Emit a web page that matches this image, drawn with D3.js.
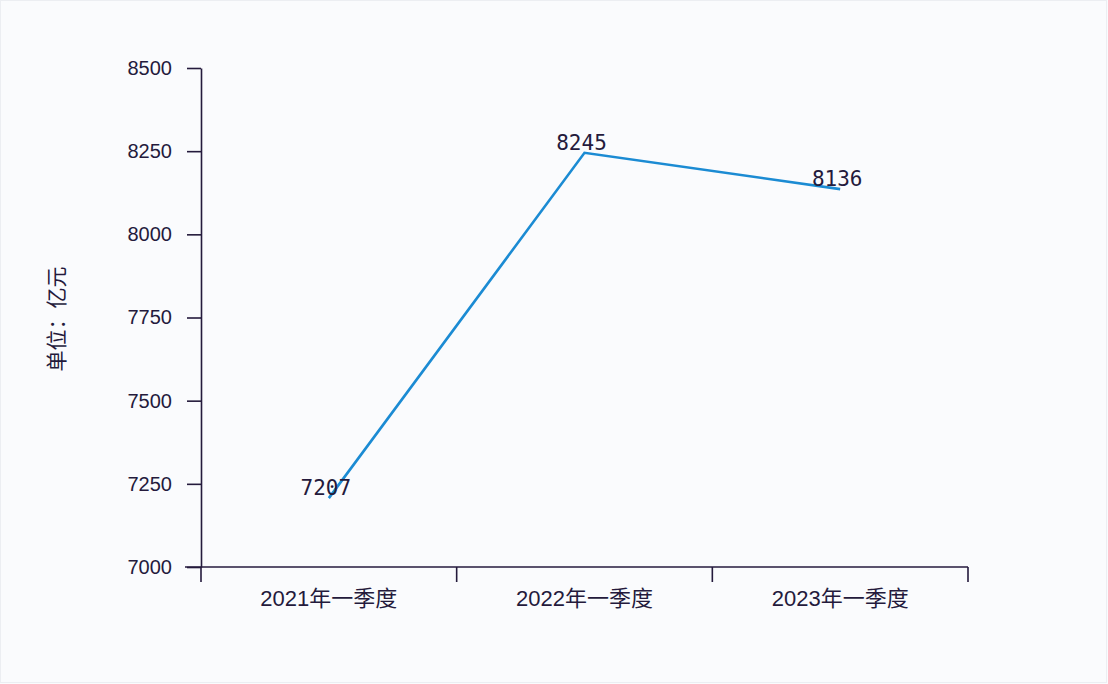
<!DOCTYPE html>
<html>
<head>
<meta charset="utf-8">
<script src="https://cdn.jsdelivr.net/npm/d3@7"></script>
<style>
  body { margin: 0; background: #fafbfd; }
  svg { display: block; }
</style>
</head>
<body>
<div id="chart"></div>
<script>
const categories = ["2021年一季度", "2022年一季度", "2023年一季度"];
const values = [7207, 8245, 8136];
const yTicks = [7000, 7250, 7500, 7750, 8000, 8250, 8500];
const yLabel = "单位：亿元";

const width = 1108;
const height = 684;
const mLeft = 201, mRight = 968, mTop = 68, mBottom = 567;
const ink = "#241a3c";

const svg = d3.select("#chart")
  .append("svg")
  .attr("width", width)
  .attr("height", height);

svg.append("rect")
  .attr("x", 0.5).attr("y", 0.5)
  .attr("width", width - 2).attr("height", height - 2)
  .attr("fill", "#fafbfd")
  .attr("stroke", "#eceef2");

const x = d3.scaleBand()
  .domain(categories)
  .range([mLeft, mRight]);

const y = d3.scaleLinear()
  .domain([7000, 8500])
  .range([mBottom, mTop]);

// y axis
const yAxis = svg.append("g")
  .attr("transform", `translate(${mLeft},0)`)
  .call(d3.axisLeft(y).tickValues(yTicks).tickFormat(d3.format("d"))
    .tickSize(14).tickPadding(15).tickSizeOuter(0));
yAxis.select(".domain").attr("stroke", ink).attr("stroke-width", 1.6);
yAxis.selectAll(".tick line").attr("stroke", ink).attr("stroke-width", 1.6);
yAxis.selectAll(".tick text")
  .attr("fill", ink)
  .style("font-family", "'Liberation Sans', Arial, sans-serif")
  .style("font-size", "20px");

// x axis
const xAxis = svg.append("g")
  .attr("transform", `translate(0,${mBottom})`)
  .call(d3.axisBottom(x).tickSize(0).tickPadding(20).tickSizeOuter(0));
xAxis.select(".domain").remove();
xAxis.append("line")
  .attr("x1", mLeft - 16).attr("x2", mRight)
  .attr("stroke", ink).attr("stroke-width", 1.6);
xAxis.selectAll(".sep")
  .data([...categories.map(c => x(c)), mRight])
  .enter()
  .append("line")
  .attr("x1", d => d).attr("x2", d => d)
  .attr("y1", 0).attr("y2", 15)
  .attr("stroke", ink).attr("stroke-width", 1.6);
xAxis.selectAll(".tick text")
  .attr("fill", ink)
  .attr("dy", "0.85em")
  .style("font-family", "'Liberation Sans', 'Noto Sans CJK SC', sans-serif")
  .style("font-size", "22px");

// y label
svg.append("text")
  .attr("transform", `translate(64,319) rotate(-90)`)
  .attr("text-anchor", "middle")
  .attr("fill", ink)
  .style("font-family", "'Noto Sans CJK SC', sans-serif")
  .style("font-size", "21px")
  .text(yLabel);

const data = categories.map((c, i) => ({ c, v: values[i] }));

const line = d3.line()
  .x(d => x(d.c) + x.bandwidth() / 2)
  .y(d => y(d.v));

svg.append("path")
  .datum(data)
  .attr("d", line)
  .attr("fill", "none")
  .attr("stroke", "#1b8bd3")
  .attr("stroke-width", 2.6);

svg.selectAll(".val")
  .data(data)
  .enter()
  .append("text")
  .attr("x", d => x(d.c) + x.bandwidth() / 2 - 3)
  .attr("y", d => y(d.v) - 3)
  .attr("text-anchor", "middle")
  .attr("fill", ink)
  .style("font-family", "'DejaVu Sans Mono', monospace")
  .style("font-size", "21px")
  .text(d => d.v);
</script>
</body>
</html>
